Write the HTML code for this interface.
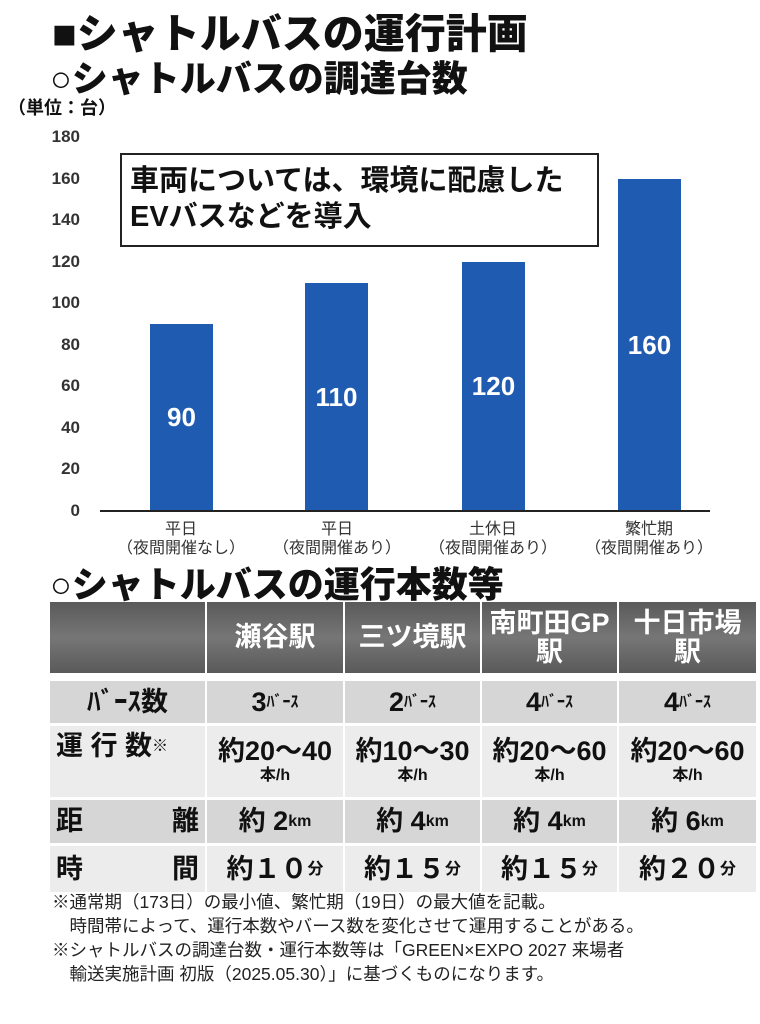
<!DOCTYPE html><html><head><meta charset="utf-8"><style>
body{margin:0;width:760px;height:1024px;background:#fff;position:relative;overflow:hidden;font-family:"Liberation Sans","Noto Sans CJK JP",sans-serif;color:#111}
.a{position:absolute;white-space:nowrap}
.t{font-weight:900}
.yl{position:absolute;left:40px;width:40px;text-align:right;font-size:17px;font-weight:bold;color:#333}
.bar{position:absolute;width:63px;background:#1f5bb0;color:#fff;font-size:26px;font-weight:bold;text-align:center}
.xl{position:absolute;width:160px;text-align:center;font-size:16px;color:#333;line-height:19px}
.c{position:absolute;display:flex;align-items:center;justify-content:center;text-align:center;font-weight:bold;font-size:27px;line-height:29px}
.h{background:linear-gradient(#5a5a5a,#767676 50%,#5a5a5a);color:#fff}
.s{font-size:16px}
</style></head><body>
<div class="a t" style="left:52px;top:0px;font-size:41px">■シャトルバスの運行計画</div>
<div class="a t" style="left:50px;top:50px;font-size:36px">○シャトルバスの調達台数</div>
<div class="a" style="left:8px;top:94px;font-size:18px;font-weight:bold">（単位：台）</div>
<div class="yl" style="top:127px">180</div><div class="yl" style="top:169px">160</div><div class="yl" style="top:210px">140</div><div class="yl" style="top:252px">120</div><div class="yl" style="top:293px">100</div><div class="yl" style="top:335px">80</div><div class="yl" style="top:376px">60</div><div class="yl" style="top:418px">40</div><div class="yl" style="top:459px">20</div><div class="yl" style="top:501px">0</div>
<div class="bar" style="left:150px;top:324px;height:187px;line-height:187px">90</div>
<div class="bar" style="left:305px;top:283px;height:228px;line-height:228px">110</div>
<div class="bar" style="left:462px;top:262px;height:249px;line-height:249px">120</div>
<div class="bar" style="left:618px;top:179px;height:332px;line-height:332px">160</div>
<div class="a" style="left:100px;top:510px;width:610px;height:2px;background:#222"></div>
<div class="a" style="left:120px;top:153px;border:2px solid #222;background:#fff;font-size:29px;font-weight:bold;line-height:36px;padding:8px 0 0 8px;box-sizing:border-box;width:479px;height:94px">車両については、環境に配慮した<br>EVバスなどを導入</div>
<div class="xl" style="left:101px;top:520px">平日<br>（夜間開催なし）</div>
<div class="xl" style="left:257px;top:520px">平日<br>（夜間開催あり）</div>
<div class="xl" style="left:413px;top:520px">土休日<br>（夜間開催あり）</div>
<div class="xl" style="left:569px;top:520px">繁忙期<br>（夜間開催あり）</div>
<div class="a t" style="left:50px;top:556px;font-size:36px">○シャトルバスの運行本数等</div>
<div class="c h" style="left:50px;top:602px;width:155px;height:71px"></div>
<div class="c h" style="left:207px;top:602px;width:136px;height:71px">瀬谷駅</div>
<div class="c h" style="left:345px;top:602px;width:135px;height:71px">三ツ境駅</div>
<div class="c h" style="left:482px;top:602px;width:135px;height:71px">南町田GP<br>駅</div>
<div class="c h" style="left:619px;top:602px;width:137px;height:71px">十日市場<br>駅</div>
<div class="c" style="left:50px;top:681px;width:155px;height:42px;background:#d6d6d6">ﾊﾞｰｽ数</div>
<div class="c" style="left:207px;top:681px;width:136px;height:42px;background:#d6d6d6">3 <span class="s">ﾊﾞｰｽ</span></div>
<div class="c" style="left:345px;top:681px;width:135px;height:42px;background:#d6d6d6">2 <span class="s">ﾊﾞｰｽ</span></div>
<div class="c" style="left:482px;top:681px;width:135px;height:42px;background:#d6d6d6">4 <span class="s">ﾊﾞｰｽ</span></div>
<div class="c" style="left:619px;top:681px;width:137px;height:42px;background:#d6d6d6">4 <span class="s">ﾊﾞｰｽ</span></div>
<div class="c" style="left:50px;top:726px;width:155px;height:71px;background:#ececec;justify-content:flex-start;align-items:flex-start;padding:6px 0 0 6px;box-sizing:border-box">運 行 数 <span class="s" style="vertical-align:top">※</span></div>
<div class="c" style="left:207px;top:726px;width:136px;height:71px;background:#ececec;flex-direction:column">約20～40<span class="s" style="line-height:20px">本/h</span></div>
<div class="c" style="left:345px;top:726px;width:135px;height:71px;background:#ececec;flex-direction:column">約10～30<span class="s" style="line-height:20px">本/h</span></div>
<div class="c" style="left:482px;top:726px;width:135px;height:71px;background:#ececec;flex-direction:column">約20～60<span class="s" style="line-height:20px">本/h</span></div>
<div class="c" style="left:619px;top:726px;width:137px;height:71px;background:#ececec;flex-direction:column">約20～60<span class="s" style="line-height:20px">本/h</span></div>
<div class="c" style="left:50px;top:800px;width:155px;height:43px;background:#d6d6d6;justify-content:space-between;padding:0 6px;box-sizing:border-box"><span>距</span><span>離</span></div>
<div class="c" style="left:207px;top:800px;width:136px;height:43px;background:#d6d6d6">約 2 <span class="s">km</span></div>
<div class="c" style="left:345px;top:800px;width:135px;height:43px;background:#d6d6d6">約 4 <span class="s">km</span></div>
<div class="c" style="left:482px;top:800px;width:135px;height:43px;background:#d6d6d6">約 4 <span class="s">km</span></div>
<div class="c" style="left:619px;top:800px;width:137px;height:43px;background:#d6d6d6">約 6 <span class="s">km</span></div>
<div class="c" style="left:50px;top:846px;width:155px;height:46px;background:#ececec;justify-content:space-between;padding:0 6px;box-sizing:border-box"><span>時</span><span>間</span></div>
<div class="c" style="left:207px;top:846px;width:136px;height:46px;background:#ececec">約１０<span class="s">分</span></div>
<div class="c" style="left:345px;top:846px;width:135px;height:46px;background:#ececec">約１５<span class="s">分</span></div>
<div class="c" style="left:482px;top:846px;width:135px;height:46px;background:#ececec">約１５<span class="s">分</span></div>
<div class="c" style="left:619px;top:846px;width:137px;height:46px;background:#ececec">約２０<span class="s">分</span></div>
<div class="a" style="left:52px;top:890px;font-size:17.5px;line-height:24px;color:#222">※通常期（173日）の最小値、繁忙期（19日）の最大値を記載。<br>　時間帯によって、運行本数やバース数を変化させて運用することがある。<br>※シャトルバスの調達台数・運行本数等は「GREEN×EXPO 2027 来場者<br>　輸送実施計画 初版（2025.05.30）」に基づくものになります。</div>
</body></html>
